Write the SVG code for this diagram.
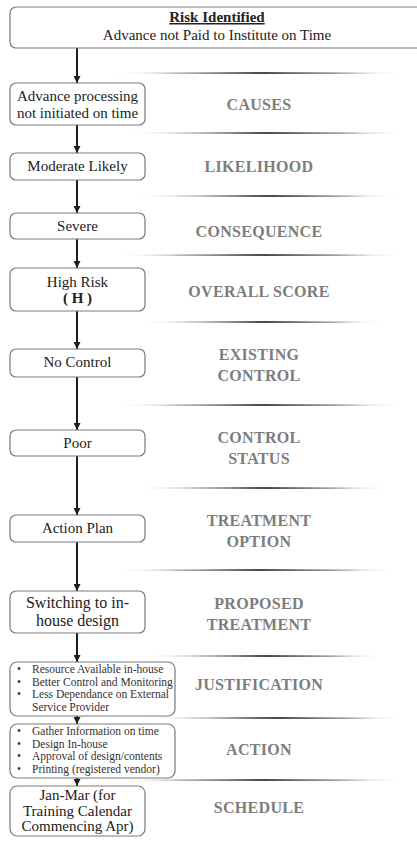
<svg xmlns="http://www.w3.org/2000/svg" width="417" height="841" viewBox="0 0 417 841">
  <defs>
    <style>
      .box { fill: #ffffff; stroke: #7a7a7a; stroke-width: 1.2; }
      .txt { font-family: "Liberation Serif", "Times New Roman", serif; font-size: 15px; fill: #222222; text-anchor: middle; }
      .big { font-size: 16px; }
      .sched { font-size: 15px; }
      .small { font-family: "Liberation Serif", "Times New Roman", serif; font-size: 11.5px; fill: #333333; }
      .lbl { font-family: "Liberation Serif", "Times New Roman", serif; font-size: 16px; font-weight: bold; fill: #7d7d7d; text-anchor: middle; letter-spacing: 0.3px; }
      .conn { stroke: #1e1e1e; stroke-width: 2; fill: none; marker-end: url(#arrow); }
      .sep { fill: url(#sepGrad); }
    </style>
    <marker id="arrow" markerUnits="userSpaceOnUse" markerWidth="7" markerHeight="7" refX="7" refY="3.5" orient="auto" viewBox="0 0 7 7">
      <path d="M0,0 L7,3.5 L0,7 Z" fill="#1e1e1e"/>
    </marker>
    <linearGradient id="sepGrad" x1="0" y1="0" x2="1" y2="0">
      <stop offset="0" stop-color="#ffffff" stop-opacity="0"/>
      <stop offset="0.2" stop-color="#c0c0c0"/>
      <stop offset="0.52" stop-color="#0a0a0a"/>
      <stop offset="0.8" stop-color="#999999"/>
      <stop offset="1" stop-color="#ffffff" stop-opacity="0"/>
    </linearGradient>
  </defs>

  <rect width="417" height="841" fill="#ffffff"/>

  <!-- section separators -->
  <g id="separators">
    <path class="sep" d="M97,73 Q257,71.3 417,73 Q257,74.7 97,73 Z"/>
    <path class="sep" d="M110,133 Q263,131.3 417,133 Q263,134.7 110,133 Z"/>
    <path class="sep" d="M120,196 Q265,194.3 410,196 Q265,197.7 120,196 Z"/>
    <path class="sep" d="M100,255 Q258,253.3 417,255 Q258,256.7 100,255 Z"/>
    <path class="sep" d="M125,322 Q260,320.3 395,322 Q260,323.7 125,322 Z"/>
    <path class="sep" d="M100,405 Q258,403.3 417,405 Q258,406.7 100,405 Z"/>
    <path class="sep" d="M120,488 Q260,486.3 400,488 Q260,489.7 120,488 Z"/>
    <path class="sep" d="M100,570 Q255,568.3 410,570 Q255,571.7 100,570 Z"/>
    <path class="sep" d="M130,656 Q262,654.3 395,656 Q262,657.7 130,656 Z"/>
    <path class="sep" d="M130,718 Q273,716.3 417,718 Q273,719.7 130,718 Z"/>
    <path class="sep" d="M100,780 Q258,778.3 417,780 Q258,781.7 100,780 Z"/>
  </g>

  <!-- connectors -->
  <g id="connectors">
    <line class="conn" x1="77" y1="48" x2="77" y2="83"/>
    <line class="conn" x1="77" y1="125" x2="77" y2="153"/>
    <line class="conn" x1="77" y1="180" x2="77" y2="213"/>
    <line class="conn" x1="77" y1="239" x2="77" y2="268"/>
    <line class="conn" x1="77" y1="311" x2="77" y2="349"/>
    <line class="conn" x1="77" y1="377" x2="77" y2="430"/>
    <line class="conn" x1="77" y1="456" x2="77" y2="515"/>
    <line class="conn" x1="77" y1="542" x2="77" y2="591"/>
    <line class="conn" x1="77" y1="633" x2="77" y2="662"/>
    <line class="conn" x1="77" y1="716" x2="77" y2="724"/>
    <line class="conn" x1="77" y1="778" x2="77" y2="786"/>
  </g>

  <!-- risk header -->
  <g id="risk">
    <rect class="box" x="10" y="7" width="420" height="41" rx="6"/>
    <text class="txt" x="217" y="22" font-weight="bold" text-decoration="underline">Risk Identified</text>
    <text class="txt" x="217" y="40">Advance not Paid to Institute on Time</text>
  </g>

  <g id="causes">
    <rect class="box" x="10" y="83" width="135" height="42" rx="6"/>
    <text class="txt" x="77.5" y="101">Advance processing</text>
    <text class="txt" x="77.5" y="118">not initiated on time</text>
    <text class="lbl" x="259" y="110">CAUSES</text>
  </g>

  <g id="likelihood">
    <rect class="box" x="10" y="153" width="135" height="27" rx="6"/>
    <text class="txt" x="77.5" y="171">Moderate Likely</text>
    <text class="lbl" x="259" y="172">LIKELIHOOD</text>
  </g>

  <g id="consequence">
    <rect class="box" x="10" y="213" width="135" height="26" rx="6"/>
    <text class="txt" x="77.5" y="231">Severe</text>
    <text class="lbl" x="259" y="237">CONSEQUENCE</text>
  </g>

  <g id="overall-score">
    <rect class="box" x="10" y="268" width="135" height="43" rx="6"/>
    <text class="txt" x="77.5" y="287">High Risk</text>
    <text class="txt" x="77.5" y="303" font-weight="bold" xml:space="preserve">( H )</text>
    <text class="lbl" x="259" y="297">OVERALL SCORE</text>
  </g>

  <g id="existing-control">
    <rect class="box" x="10" y="349" width="135" height="28" rx="6"/>
    <text class="txt" x="77.5" y="367">No Control</text>
    <text class="lbl" x="259" y="360">EXISTING</text>
    <text class="lbl" x="259" y="381">CONTROL</text>
  </g>

  <g id="control-status">
    <rect class="box" x="10" y="430" width="135" height="26" rx="6"/>
    <text class="txt" x="77.5" y="448">Poor</text>
    <text class="lbl" x="259" y="443">CONTROL</text>
    <text class="lbl" x="259" y="464">STATUS</text>
  </g>

  <g id="treatment-option">
    <rect class="box" x="10" y="515" width="135" height="27" rx="6"/>
    <text class="txt" x="77.5" y="533">Action Plan</text>
    <text class="lbl" x="259" y="526">TREATMENT</text>
    <text class="lbl" x="259" y="547">OPTION</text>
  </g>

  <g id="proposed-treatment">
    <rect class="box" x="10" y="591" width="135" height="42" rx="6"/>
    <text class="txt big" x="77.5" y="608">Switching to in-</text>
    <text class="txt big" x="77.5" y="626">house design</text>
    <text class="lbl" x="259" y="609">PROPOSED</text>
    <text class="lbl" x="259" y="630">TREATMENT</text>
  </g>

  <g id="justification">
    <rect class="box" x="10" y="662" width="165" height="54" rx="7"/>
    <text class="small" x="17" y="673">•</text>
    <text class="small" x="32" y="673">Resource Available in-house</text>
    <text class="small" x="17" y="686">•</text>
    <text class="small" x="32" y="686">Better Control and Monitoring</text>
    <text class="small" x="17" y="698">•</text>
    <text class="small" x="32" y="698">Less Dependance on External</text>
    <text class="small" x="32" y="711">Service Provider</text>
    <text class="lbl" x="259" y="690">JUSTIFICATION</text>
  </g>

  <g id="action">
    <rect class="box" x="10" y="724" width="165" height="54" rx="7"/>
    <text class="small" x="17" y="735">•</text>
    <text class="small" x="32" y="735">Gather Information on time</text>
    <text class="small" x="17" y="748">•</text>
    <text class="small" x="32" y="748">Design In-house</text>
    <text class="small" x="17" y="760">•</text>
    <text class="small" x="32" y="760">Approval of design/contents</text>
    <text class="small" x="17" y="773">•</text>
    <text class="small" x="32" y="773">Printing (registered vendor)</text>
    <text class="lbl" x="259" y="755">ACTION</text>
  </g>

  <g id="schedule">
    <rect class="box" x="10" y="786" width="135" height="50" rx="7"/>
    <text class="txt sched" x="77.5" y="800">Jan-Mar (for</text>
    <text class="txt sched" x="77.5" y="815.5">Training Calendar</text>
    <text class="txt sched" x="77.5" y="831">Commencing Apr)</text>
    <text class="lbl" x="259" y="813">SCHEDULE</text>
  </g>
</svg>
